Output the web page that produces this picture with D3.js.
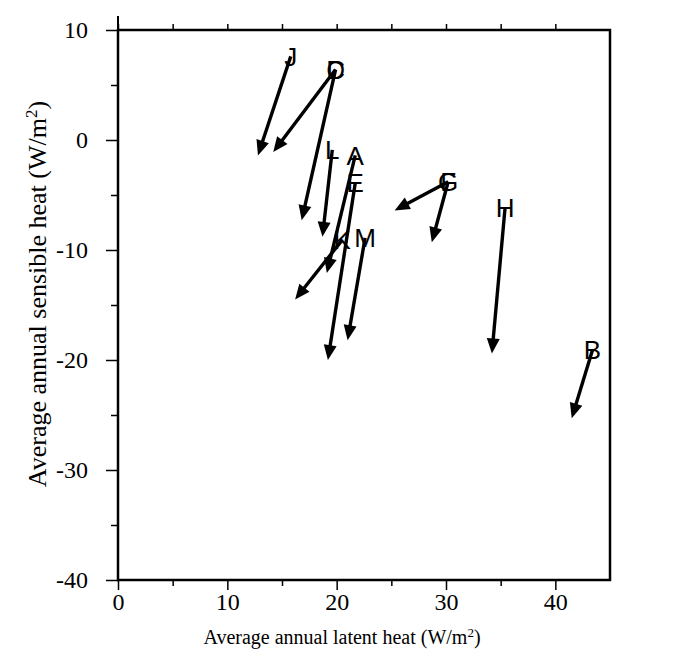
<!DOCTYPE html>
<html>
<head>
<meta charset="utf-8">
<script src="https://cdn.jsdelivr.net/npm/d3@7"></script>
<style>
  body { margin: 0; background: #fff; }
  svg { display: block; }
  .tick text { font-family: "Liberation Serif", "Times New Roman", serif; font-size: 24px; fill: #000; }
  .axis-title { font-family: "Liberation Serif", "Times New Roman", serif; fill: #000; }
  .site { font-family: "Liberation Sans", Arial, sans-serif; font-size: 26px; fill: #000; }
</style>
</head>
<body>
<div id="chart"></div>
<script>
// station labels and arrow start / end (W/m2)
var stations = ["J", "C", "D", "L", "A", "E", "K", "M", "F", "G", "H", "B"];
var latentStart   = [15.8, 19.9, 19.9, 19.6, 21.7, 21.7, 20.5, 22.6, 30.2, 30.2, 35.4, 43.4];
var sensibleStart = [ 7.6,  6.4,  6.4, -0.9, -1.4, -3.9, -9.1, -8.9, -3.8, -3.8, -6.2, -19.1];
var latentEnd     = [12.8, 14.2, 16.8, 18.7, 19.1, 19.2, 16.2, 21.0, 25.3, 28.7, 34.2, 41.5];
var sensibleEnd   = [-1.4, -1.1, -7.3, -8.8, -12.1, -20.0, -14.5, -18.2, -6.4, -9.3, -19.4, -25.3];

var xTicks = [0, 10, 20, 30, 40];
var yTicks = [-40, -30, -20, -10, 0, 10];
var minorX = [5, 15, 25, 35];
var minorY = [-35, -25, -15, -5, 5];

var margin = {top: 30, right: 64, bottom: 88, left: 118};
var width = 674 - margin.left - margin.right;
var height = 668 - margin.top - margin.bottom;

var svg = d3.select("#chart").append("svg")
  .attr("width", 674)
  .attr("height", 668)
  .append("g")
  .attr("transform", "translate(" + margin.left + "," + margin.top + ")");

var x = d3.scaleLinear().domain([0, 45]).range([0, width]);
var y = d3.scaleLinear().domain([-40, 10]).range([height, 0]);
var plain = function(d) { return String(d); };

// bottom axis
var gx = svg.append("g")
  .attr("transform", "translate(0," + height + ")")
  .call(d3.axisBottom(x).tickValues(xTicks).tickSize(10).tickPadding(3).tickFormat(plain).tickSizeOuter(0));
gx.append("g").call(d3.axisBottom(x).tickValues(minorX).tickSize(6).tickFormat("").tickSizeOuter(0));

// left axis
var gy = svg.append("g")
  .call(d3.axisLeft(y).tickValues(yTicks).tickSize(12).tickPadding(18).tickFormat(plain).tickSizeOuter(0));
gy.append("g").call(d3.axisLeft(y).tickValues(minorY).tickSize(7).tickFormat("").tickSizeOuter(0));

// top ticks
svg.append("g").call(d3.axisTop(x).tickValues(xTicks.concat(minorX)).tickSize(6).tickFormat("").tickSizeOuter(0));

svg.selectAll(".domain").remove();
svg.selectAll(".tick line").attr("stroke", "#000").attr("stroke-width", 1.5);

// frame
svg.append("rect")
  .attr("x", 0).attr("y", 0)
  .attr("width", width).attr("height", height)
  .attr("fill", "none")
  .attr("stroke", "#000")
  .attr("stroke-width", 2.5);
svg.append("line")
  .attr("x1", 0).attr("x2", 0)
  .attr("y1", -14).attr("y2", 0)
  .attr("stroke", "#000").attr("stroke-width", 2);

// arrows
var arrows = stations.map(function(s, i) {
  return {name: s, x0: latentStart[i], y0: sensibleStart[i], x1: latentEnd[i], y1: sensibleEnd[i]};
});

var headLen = 15, headHalf = 6.5;
arrows.forEach(function(d) {
  var ax = x(d.x0), ay = y(d.y0), bx = x(d.x1), by = y(d.y1);
  var dx = bx - ax, dy = by - ay;
  var len = Math.sqrt(dx * dx + dy * dy);
  var ux = dx / len, uy = dy / len;
  var cx = bx - ux * headLen, cy = by - uy * headLen;
  svg.append("line")
    .attr("x1", ax).attr("y1", ay)
    .attr("x2", cx + ux * 2).attr("y2", cy + uy * 2)
    .attr("stroke", "#000")
    .attr("stroke-width", 3.4);
  svg.append("path")
    .attr("d", "M" + bx + "," + by +
      "L" + (cx - uy * headHalf) + "," + (cy + ux * headHalf) +
      "L" + (cx + uy * headHalf) + "," + (cy - ux * headHalf) + "Z")
    .attr("fill", "#000");
});

// station letters
svg.selectAll(".site")
  .data(arrows)
  .enter().append("text")
  .attr("class", "site")
  .attr("x", function(d) { return x(d.x0); })
  .attr("y", function(d) { return y(d.y0); })
  .attr("text-anchor", "middle")
  .attr("dy", "0.35em")
  .text(function(d) { return d.name; });

// axis titles
svg.append("text")
  .attr("class", "axis-title")
  .attr("font-size", "20px")
  .attr("x", 224)
  .attr("y", height + 64)
  .attr("text-anchor", "middle")
  .html("Average annual latent heat (W/m<tspan baseline-shift='super' font-size='13px'>2</tspan>)");

svg.append("text")
  .attr("class", "axis-title")
  .attr("font-size", "26px")
  .attr("transform", "translate(-72," + 264 + ") rotate(-90)")
  .attr("text-anchor", "middle")
  .html("Average annual sensible heat (W/m<tspan baseline-shift='super' font-size='17px'>2</tspan>)");
</script>
</body>
</html>
